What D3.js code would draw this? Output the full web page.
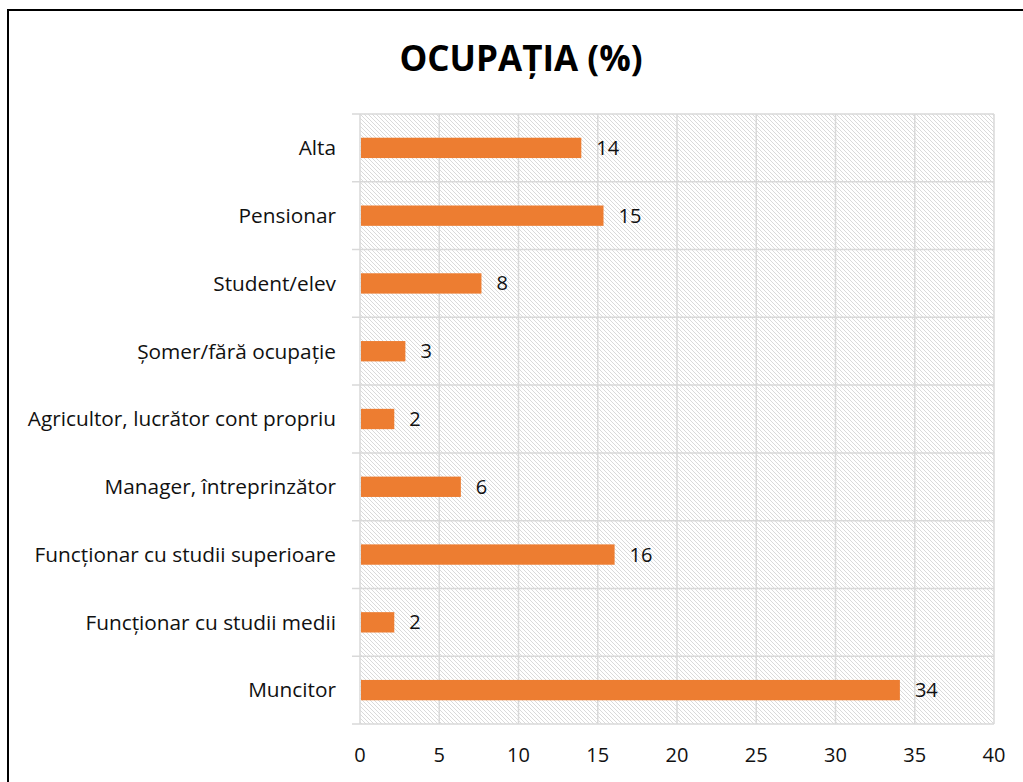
<!DOCTYPE html>
<html>
<head>
<meta charset="utf-8">
<script src="https://cdn.jsdelivr.net/npm/d3@7"></script>
<style>
  body { margin: 0; background: #fff; }
  text { font-family: "Open Sans", Lato, sans-serif; }
</style>
</head>
<body>
<div id="chart"></div>
<script>
var svgWidth = 1023;
var svgHeight = 782;

// data, top to bottom
var categories = [
  "Alta",
  "Pensionar",
  "Student/elev",
  "Șomer/fără ocupație",
  "Agricultor, lucrător cont propriu",
  "Manager, întreprinzător",
  "Funcționar cu studii superioare",
  "Funcționar cu studii medii",
  "Muncitor"
];
var values = [13.9, 15.3, 7.6, 2.8, 2.1, 6.3, 16.0, 2.1, 34.0];
var valueLabels = ["14", "15", "8", "3", "2", "6", "16", "2", "34"];
var xTicks = [0, 5, 10, 15, 20, 25, 30, 35, 40];

var margin = { top: 114, right: 29, bottom: 58, left: 360 };
var width = svgWidth - margin.left - margin.right;
var height = svgHeight - margin.top - margin.bottom;

var svg = d3.select("#chart")
  .append("svg")
  .attr("width", svgWidth)
  .attr("height", svgHeight);

// hatch fill for plot area
var defs = svg.append("defs");
var pat = defs.append("pattern")
  .attr("id", "hatch")
  .attr("patternUnits", "userSpaceOnUse")
  .attr("width", 4)
  .attr("height", 4);
pat.append("rect").attr("width", 4).attr("height", 4).attr("fill", "#fff");
pat.append("path")
  .attr("d", "M-1,-1 L5,5 M-1,3 L1,5 M3,-1 L5,1")
  .attr("stroke", "#d6d6d6")
  .attr("stroke-width", 0.9);

// outer frame (runs off the picture on the right and bottom)
svg.append("rect")
  .attr("x", 8)
  .attr("y", 10)
  .attr("width", 1040)
  .attr("height", 800)
  .attr("fill", "none")
  .attr("stroke", "#000")
  .attr("stroke-width", 2);

svg.append("text")
  .attr("x", 521)
  .attr("y", 71)
  .attr("text-anchor", "middle")
  .attr("font-size", 35)
  .attr("font-weight", "bold")
  .attr("fill", "#000")
  .text("OCUPAȚIA (%)");

var chartGroup = svg.append("g")
  .attr("transform", `translate(${margin.left}, ${margin.top})`);

var xScale = d3.scaleLinear()
  .domain([0, 40])
  .range([0, width]);

var yScale = d3.scaleBand()
  .domain(categories)
  .range([0, height])
  .padding(0);

chartGroup.append("rect")
  .attr("width", width)
  .attr("height", height)
  .attr("fill", "url(#hatch)");

// vertical gridlines
chartGroup.append("g")
  .selectAll("line")
  .data(xTicks)
  .enter()
  .append("line")
  .attr("x1", d => xScale(d))
  .attr("x2", d => xScale(d))
  .attr("y1", 0)
  .attr("y2", height)
  .attr("stroke", "#d9d9d9")
  .attr("stroke-width", 1.5);

// horizontal lines at category borders, with small ticks to the left
var borders = categories.map(c => yScale(c)).concat([height]);
chartGroup.append("g")
  .selectAll("line")
  .data(borders)
  .enter()
  .append("line")
  .attr("x1", -8)
  .attr("x2", width)
  .attr("y1", d => d)
  .attr("y2", d => d)
  .attr("stroke", "#d9d9d9")
  .attr("stroke-width", 1.5);

var barH = yScale.bandwidth() * 0.3;

chartGroup.append("g")
  .selectAll("rect")
  .data(values)
  .enter()
  .append("rect")
  .attr("x", xScale(0) + 1)
  .attr("y", (d, i) => yScale(categories[i]) + yScale.bandwidth() / 2 - barH / 2)
  .attr("width", d => xScale(d) - xScale(0))
  .attr("height", barH)
  .attr("fill", "#ED7D31");

chartGroup.append("g")
  .selectAll("text")
  .data(values)
  .enter()
  .append("text")
  .attr("x", d => xScale(d) + 16)
  .attr("y", (d, i) => yScale(categories[i]) + yScale.bandwidth() / 2)
  .attr("dy", "0.35em")
  .attr("font-size", 20)
  .attr("fill", "#111")
  .text((d, i) => valueLabels[i]);

// category labels
chartGroup.append("g")
  .selectAll("text")
  .data(categories)
  .enter()
  .append("text")
  .attr("x", -24)
  .attr("y", d => yScale(d) + yScale.bandwidth() / 2)
  .attr("dy", "0.35em")
  .attr("text-anchor", "end")
  .attr("font-size", 20.8)
  .attr("fill", "#111")
  .text(d => d);

// x tick labels
chartGroup.append("g")
  .selectAll("text")
  .data(xTicks)
  .enter()
  .append("text")
  .attr("x", d => xScale(d))
  .attr("y", height + 31)
  .attr("dy", "0.35em")
  .attr("text-anchor", "middle")
  .attr("font-size", 20)
  .attr("fill", "#111")
  .text(d => d);
</script>
</body>
</html>
